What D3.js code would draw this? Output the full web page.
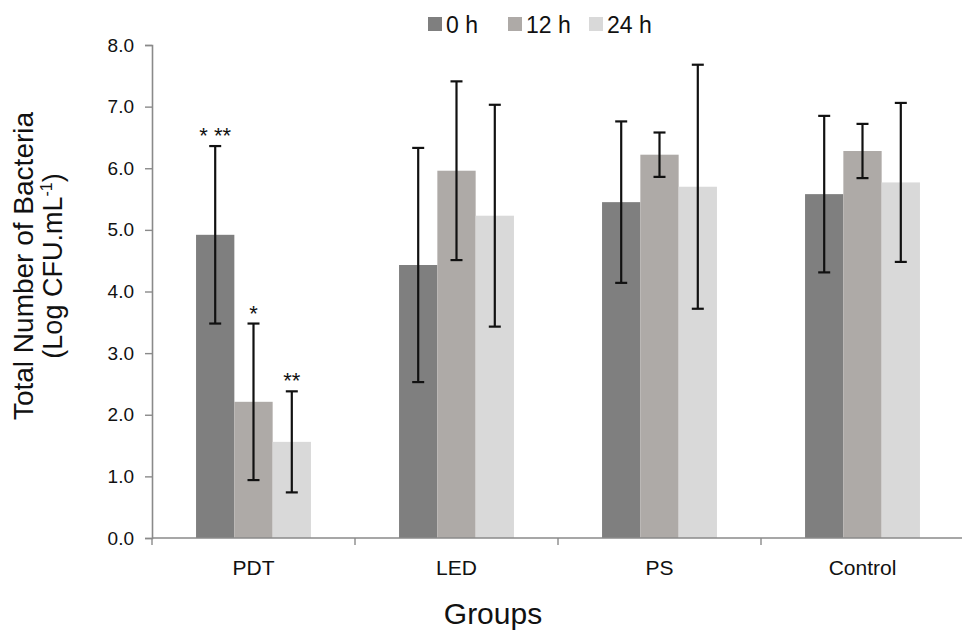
<!DOCTYPE html>
<html>
<head>
<meta charset="utf-8">
<script src="https://cdn.jsdelivr.net/npm/d3@7"></script>
<style>
  body { margin: 0; background: #fff; }
  text { font-family: "Liberation Sans", Arial, sans-serif; fill: #111; }
</style>
</head>
<body>
<div id="chart"></div>
<script>
const width = 962, height = 631;

// data
const groups = ["PDT", "LED", "PS", "Control"];
const series = ["0 h", "12 h", "24 h"];
const means = [
  [4.92, 2.21, 1.56],
  [4.43, 5.96, 5.23],
  [5.45, 6.22, 5.70],
  [5.58, 6.28, 5.77]
];
const errors = [
  [1.44, 1.27, 0.82],
  [1.90, 1.45, 1.80],
  [1.31, 0.36, 1.98],
  [1.27, 0.44, 1.29]
];
const stars = [
  ["* **", "*", "**"],
  ["", "", ""],
  ["", "", ""],
  ["", "", ""]
];
const yTicks = [0, 1, 2, 3, 4, 5, 6, 7, 8];
const colors = ["#7f7f7f", "#aeaaa7", "#d9d9d9"];

const margin = {top: 45, left: 152, bottom: 93};
const bandW = 203;

const svg = d3.select("#chart")
  .append("svg")
  .attr("width", width)
  .attr("height", height);

const x0 = d3.scaleBand()
  .domain(groups)
  .range([margin.left, margin.left + bandW * groups.length])
  .padding(0);

const x1 = d3.scaleBand()
  .domain(series)
  .range([0, x0.bandwidth()])
  .paddingInner(0)
  .paddingOuter(1.15);

const y = d3.scaleLinear()
  .domain([0, 8])
  .range([height - margin.bottom, margin.top]);

const color = d3.scaleOrdinal().domain(series).range(colors);

// flat rows for drawing
const rows = [];
groups.forEach((g, i) => {
  series.forEach((s, j) => {
    rows.push({g, s, v: means[i][j], e: errors[i][j], star: stars[i][j]});
  });
});

// bars
svg.append("g")
  .selectAll("rect")
  .data(rows)
  .join("rect")
  .attr("x", d => x0(d.g) + x1(d.s))
  .attr("y", d => y(d.v))
  .attr("width", x1.bandwidth())
  .attr("height", d => y(0) - y(d.v))
  .attr("fill", d => color(d.s));

// error bars
const cap = 6;
const eb = svg.append("g")
  .attr("stroke", "#111")
  .attr("stroke-width", 2.2);

const cx = d => x0(d.g) + x1(d.s) + x1.bandwidth() / 2;

eb.selectAll("line.stem")
  .data(rows)
  .join("line")
  .attr("class", "stem")
  .attr("x1", cx).attr("x2", cx)
  .attr("y1", d => y(d.v + d.e))
  .attr("y2", d => y(Math.max(0, d.v - d.e)));

eb.selectAll("line.top")
  .data(rows)
  .join("line")
  .attr("class", "top")
  .attr("x1", d => cx(d) - cap).attr("x2", d => cx(d) + cap)
  .attr("y1", d => y(d.v + d.e)).attr("y2", d => y(d.v + d.e));

eb.selectAll("line.bot")
  .data(rows)
  .join("line")
  .attr("class", "bot")
  .attr("x1", d => cx(d) - cap).attr("x2", d => cx(d) + cap)
  .attr("y1", d => y(d.v - d.e)).attr("y2", d => y(d.v - d.e));

// significance stars
svg.append("g")
  .selectAll("text")
  .data(rows.filter(d => d.star))
  .join("text")
  .attr("x", cx)
  .attr("y", d => y(d.v + d.e) - 3)
  .attr("text-anchor", "middle")
  .attr("font-size", 22)
  .attr("fill", "#222")
  .text(d => d.star);

// y axis
const yAxis = svg.append("g")
  .attr("transform", `translate(${margin.left},0)`)
  .call(d3.axisLeft(y).tickValues(yTicks).tickFormat(d3.format(".1f")).tickSize(7).tickPadding(11));
yAxis.select(".domain").attr("stroke", "#8a8a8a").attr("stroke-width", 1.6);
yAxis.selectAll(".tick line").attr("stroke", "#8a8a8a").attr("stroke-width", 1.4);
yAxis.selectAll(".tick text")
  .attr("font-size", 19)
  .attr("fill", "#111")
  .style("font-family", "'Liberation Sans', Arial, sans-serif");

// x axis (ticks between groups)
const xAxisG = svg.append("g")
  .attr("transform", `translate(0,${y(0)})`);
xAxisG.append("line")
  .attr("x1", margin.left).attr("x2", x0.range()[1])
  .attr("stroke", "#8a8a8a").attr("stroke-width", 1.6);
xAxisG.selectAll("line.tk")
  .data(groups)
  .join("line")
  .attr("class", "tk")
  .attr("x1", d => x0(d)).attr("x2", d => x0(d))
  .attr("y1", 0).attr("y2", 7)
  .attr("stroke", "#8a8a8a").attr("stroke-width", 1.4);
xAxisG.selectAll("text")
  .data(groups)
  .join("text")
  .attr("x", d => x0(d) + x0.bandwidth() / 2)
  .attr("y", 37)
  .attr("text-anchor", "middle")
  .attr("font-size", 21)
  .text(d => d);

// axis titles
svg.append("text")
  .attr("x", 493)
  .attr("y", 624)
  .attr("text-anchor", "middle")
  .attr("font-size", 30)
  .text("Groups");

const yt = svg.append("g")
  .attr("transform", "translate(0,266) rotate(-90)");
yt.append("text")
  .attr("x", 0).attr("y", 33)
  .attr("text-anchor", "middle")
  .attr("font-size", 28)
  .text("Total Number of Bacteria");
const yt2 = yt.append("text")
  .attr("x", 0).attr("y", 62)
  .attr("text-anchor", "middle")
  .attr("font-size", 27);
yt2.append("tspan").text("(Log CFU.mL");
yt2.append("tspan").attr("font-size", 16).attr("dy", -10).text("-1");
yt2.append("tspan").attr("dy", 10).text(")");

// legend
const legendX = [428, 508, 589];
const legend = svg.append("g")
  .selectAll("g")
  .data(series)
  .join("g")
  .attr("transform", (d, i) => `translate(${legendX[i]},17)`);
legend.append("rect")
  .attr("width", 14).attr("height", 14)
  .attr("fill", d => color(d));
legend.append("text")
  .attr("x", 18).attr("y", 16)
  .attr("font-size", 23)
  .text(d => d);
</script>
</body>
</html>
